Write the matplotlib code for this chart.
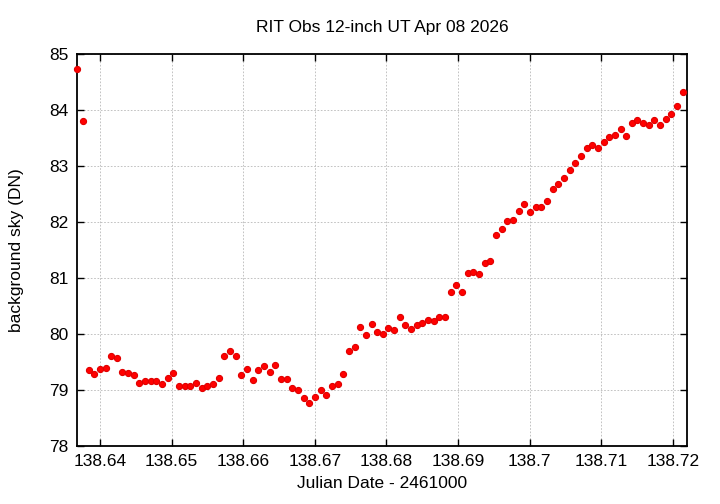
import numpy as np
from matplotlib import pyplot as plt

jd = [138.63683, 138.63762, 138.63841, 138.63920, 138.63999, 138.64078, 138.64157, 138.64236,
      138.64315, 138.64394, 138.64473, 138.64552, 138.64631, 138.64710, 138.64789, 138.64868,
      138.64947, 138.65026, 138.65105, 138.65184, 138.65263, 138.65342, 138.65421, 138.65500,
      138.65579, 138.65658, 138.65737, 138.65816, 138.65895, 138.65974, 138.66053, 138.66132,
      138.66211, 138.66290, 138.66369, 138.66448, 138.66527, 138.66606, 138.66685, 138.66764,
      138.66843, 138.66922, 138.67001, 138.67080, 138.67159, 138.67238, 138.67317, 138.67396,
      138.67475, 138.67554, 138.67633, 138.67712, 138.67791, 138.67870, 138.67949, 138.68028,
      138.68107, 138.68186, 138.68265, 138.68344, 138.68423, 138.68502, 138.68581, 138.68660,
      138.68739, 138.68818, 138.68897, 138.68976, 138.69055, 138.69134, 138.69213, 138.69292,
      138.69371, 138.69450, 138.69529, 138.69608, 138.69687, 138.69766, 138.69845, 138.69924,
      138.70003, 138.70082, 138.70161, 138.70240, 138.70319, 138.70398, 138.70477, 138.70556,
      138.70635, 138.70714, 138.70793, 138.70872, 138.70951, 138.71030, 138.71109, 138.71188,
      138.71267, 138.71346, 138.71425, 138.71504, 138.71583, 138.71662, 138.71741, 138.71820,
      138.71899, 138.71978, 138.72057, 138.72136]

sky = [84.73, 83.80, 79.36, 79.29, 79.375, 79.39, 79.60, 79.57, 79.32, 79.30, 79.27, 79.13,
       79.155, 79.16, 79.16, 79.11, 79.21, 79.30, 79.07, 79.065, 79.08, 79.125, 79.04, 79.065,
       79.11, 79.22, 79.60, 79.69, 79.61, 79.27, 79.38, 79.17, 79.35, 79.43, 79.32, 79.45,
       79.20, 79.19, 79.04, 79.00, 78.85, 78.77, 78.87, 79.00, 78.91, 79.07, 79.11, 79.29,
       79.70, 79.76, 80.12, 79.98, 80.18, 80.04, 80.00, 80.10, 80.07, 80.31, 80.155, 80.095,
       80.16, 80.20, 80.25, 80.23, 80.30, 80.30, 80.756, 80.875, 80.756, 81.09, 81.11, 81.08,
       81.27, 81.30, 81.76, 81.875, 82.01, 82.04, 82.20, 82.32, 82.17, 82.27, 82.27, 82.375,
       82.59, 82.67, 82.78, 82.92, 83.05, 83.18, 83.315, 83.38, 83.315, 83.42, 83.52, 83.55,
       83.655, 83.54, 83.77, 83.815, 83.77, 83.74, 83.815, 83.73, 83.84, 83.93, 84.08, 84.32]

xticks = [138.64, 138.65, 138.66, 138.67, 138.68, 138.69, 138.70, 138.71, 138.72]
xticklabels = ['138.64', '138.65', '138.66', '138.67', '138.68', '138.69', '138.7', '138.71', '138.72']
yticks = [78, 79, 80, 81, 82, 83, 84, 85]

plt.rcParams['font.family'] = ['Liberation Sans', 'DejaVu Sans']

fig = plt.figure(figsize=(7.2, 5.04), dpi=100)
ax = fig.add_axes([77 / 720, 58 / 504, 610 / 720, 392 / 504])

ax.plot(jd, sky, 'o', ms=4.4, mfc='#ff0000', mec='#e00000', mew=0.8, clip_on=False, zorder=3)

ax.set_xlim(138.6368, 138.72195)
ax.set_ylim(78, 85)
ax.set_xticks(xticks)
ax.set_xticklabels(xticklabels)
ax.set_yticks(yticks)
ax.grid(True, color='#b8b8b8', linestyle=(0, (2, 2)), linewidth=0.6)
ax.tick_params(direction='in', length=5, width=1, top=True, right=True, labelsize=12.5, pad=6)
for s in ax.spines.values():
    s.set_linewidth(1.3)

ax.set_title('RIT Obs 12-inch UT Apr 08 2026', fontsize=12.5, pad=16)
ax.set_xlabel('Julian Date - 2461000', fontsize=12.5, labelpad=5)
ax.set_ylabel('background sky (DN)', fontsize=12.5, labelpad=18)

fig.savefig('out.png', dpi=100)
